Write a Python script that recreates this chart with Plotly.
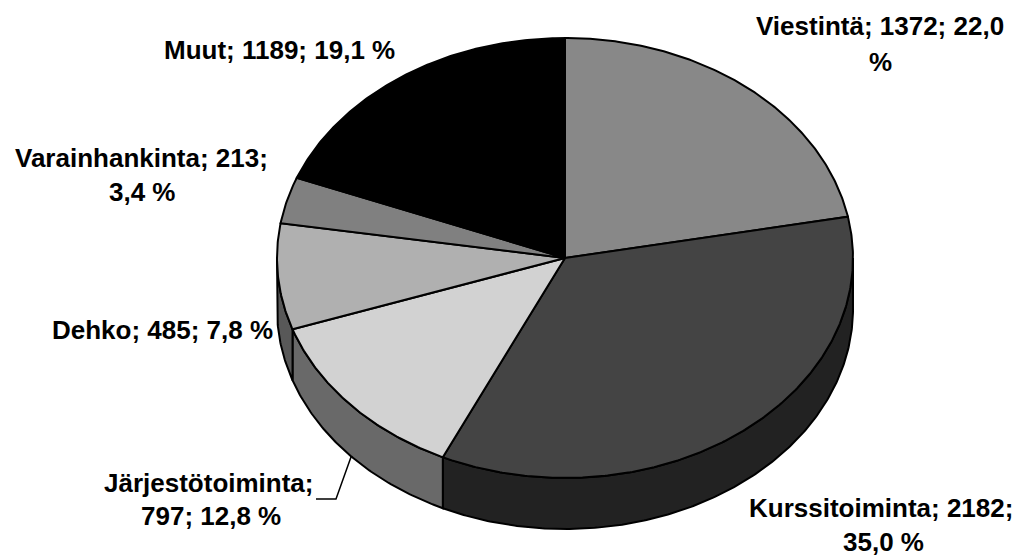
import math
import plotly.graph_objects as go

categories = ["Viestintä", "Kurssitoiminta", "Järjestötoiminta", "Dehko", "Varainhankinta", "Muut"]
values = [1372, 2182, 797, 485, 213, 1189]
top_colors = ["#888888", "#444444", "#D2D2D2", "#B0B0B0", "#808080", "#000000"]
side_colors = ["#444444", "#222222", "#696969", "#585858", "#404040", "#000000"]
label_lines = [
    ["Viestintä; 1372; 22,0", "%"],
    ["Kurssitoiminta; 2182;", "35,0 %"],
    ["Järjestötoiminta;", "797; 12,8 %"],
    ["Dehko; 485; 7,8 %"],
    ["Varainhankinta; 213;", "3,4 %"],
    ["Muut; 1189; 19,1 %"],
]
label_x = [[880, 880], [881, 883], [209, 211], [162], [141, 142], [279]]
label_y = [[26, 62], [508, 542], [483, 516], [330], [158, 192], [50]]

W, H = 1015, 557
CX, CY, RX, RY, DEPTH = 565, 258, 288, 220, 51


def pt(deg, dy=0.0):
    a = math.radians(deg)
    return CX + RX * math.sin(a), CY - RY * math.cos(a) + dy


def arc(a0, a1, dy=0.0):
    n = max(2, int(abs(a1 - a0) * 2))
    return [pt(a0 + (a1 - a0) * i / n, dy) for i in range(n + 1)]


total = sum(values)
fig = go.Figure()
edges = []
cum = 0
for v in values:
    edges.append((cum / total * 360, (cum + v) / total * 360))
    cum += v


def add_poly(pts, color):
    fig.add_trace(go.Scatter(
        x=[p[0] for p in pts], y=[p[1] for p in pts], mode="lines",
        fill="toself", fillcolor=color, line=dict(color="#000000", width=2),
        hoverinfo="skip", showlegend=False))


# side wall: only the front half of the ellipse is visible
for (a0, a1), col in zip(edges, side_colors):
    s0, s1 = max(a0, 90), min(a1, 270)
    if s1 > s0:
        pts = arc(s0, s1) + arc(s1, s0, DEPTH)
        add_poly(pts + [pts[0]], col)

# top surface
for (a0, a1), col in zip(edges, top_colors):
    pts = [(CX, CY)] + arc(a0, a1) + [(CX, CY)]
    add_poly(pts, col)

annotations = []
for lines, xs, ys in zip(label_lines, label_x, label_y):
    for line, x, y in zip(lines, xs, ys):
        annotations.append(dict(
            x=x, y=y, xref="x", yref="y", text=f"<b>{line}</b>", showarrow=False,
            xanchor="center", yanchor="middle",
            font=dict(family="Liberation Sans", size=26, color="#000000")))

fig.update_layout(
    width=W, height=H, margin=dict(l=0, r=0, t=0, b=0),
    paper_bgcolor="white", plot_bgcolor="white", showlegend=False,
    xaxis=dict(range=[0, W], visible=False, fixedrange=True),
    yaxis=dict(range=[H, 0], visible=False, fixedrange=True),
    annotations=annotations,
    shapes=[dict(type="path", xref="x", yref="y", path="M 351 457 L 336 499 L 316 499",
                 line=dict(color="#000000", width=1.5))],
)
fig.write_html("out.html", config={"displayModeBar": False},
               post_script="document.body.style.margin='0';document.body.style.overflow='hidden';")
